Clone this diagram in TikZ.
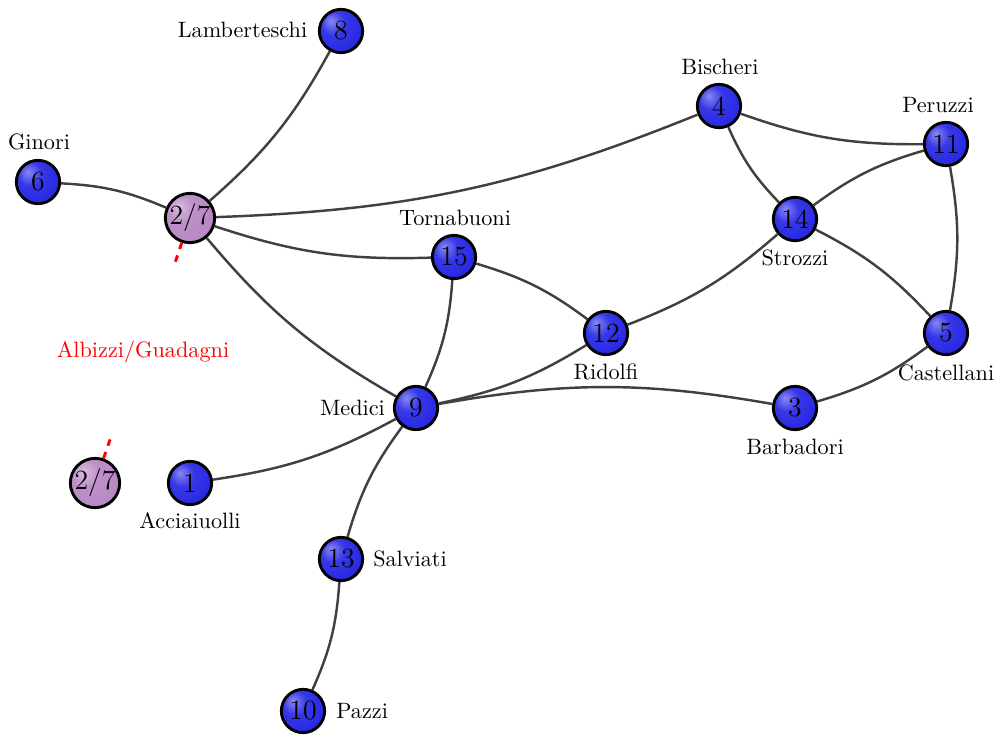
\documentclass[tikz,border=0pt]{standalone}
\definecolor{bbase}{RGB}{38,38,228}
\definecolor{pbase}{RGB}{184,134,196}
\pgfdeclareradialshading{blueball}{\pgfpoint{-12bp}{12bp}}{color(0bp)=(bbase!55!white); color(14bp)=(bbase!92!white); color(34bp)=(bbase); color(52bp)=(bbase!78!black); color(70bp)=(bbase!60!black)}
\pgfdeclareradialshading{purpball}{\pgfpoint{-12bp}{12bp}}{color(0bp)=(pbase!55!white); color(14bp)=(pbase!92!white); color(34bp)=(pbase); color(52bp)=(pbase!82!black); color(70bp)=(pbase!65!black)}
\begin{document}
\begin{tikzpicture}[x=0.45pt,y=-0.45pt,
  fam/.style={circle,draw=black,line width=1.3pt,shading=blueball,minimum size=19.5pt,inner sep=0pt,font=\fontsize{12.5}{14}\selectfont},
  cutnode/.style={fam,shading=purpball},
  lab/.style={font=\normalsize,anchor=base,inner sep=0pt},
  edge/.style={draw=black!75,line width=1.1pt},
  cutedge/.style={draw=red,dashed,line width=1.3pt}]
\useasboundingbox (0,0) rectangle (999,736);
% nodes
\node[fam] (n8) at (341,31) {8};
\node[fam] (n6) at (38,182) {6};
\node[cutnode] (a27) at (190,218) {2/7};
\node[fam] (n4) at (719,106) {4};
\node[fam] (n11) at (946,144) {11};
\node[fam] (n14) at (795,219) {14};
\node[fam] (n15) at (454,257) {15};
\node[fam] (n12) at (606,333) {12};
\node[fam] (n5) at (946,333) {5};
\node[fam] (n9) at (416,408) {9};
\node[fam] (n3) at (795,408) {3};
\node[cutnode] (b27) at (95,483) {2/7};
\node[fam] (n1) at (190,483) {1};
\node[fam] (n13) at (341,559) {13};
\node[fam] (n10) at (303,711) {10};
% labels
\node[lab] (l8) at (242.5,38) {Lamberteschi};
\node[lab] (l6) at (39,149) {Ginori};
\node[lab] (l4) at (720,74) {Bischeri};
\node[lab] (l11) at (938,112) {Peruzzi};
\node[lab] (l15) at (455,225) {Tornabuoni};
\node[lab] (l14) at (795,265) {Strozzi};
\node[lab] (l12) at (606,379) {Ridolfi};
\node[lab] (l5) at (946,380) {Castellani};
\node[lab] (l9) at (352.5,415) {Medici};
\node[lab] (l3) at (795,454) {Barbadori};
\node[lab] (l1) at (190,528) {Acciaiuolli};
\node[lab] (l13) at (410,566) {Salviati};
\node[lab,anchor=base west] (l10) at (336,718) {Pazzi};
\node[lab,text=red] (lag) at (143,357) {Albizzi/Guadagni};
% edges
\draw[edge] (n6) to[bend left=10] (a27);
\draw[edge] (a27) to[bend right=10] (n8);
\draw[edge] (a27) to[bend right=10] (n4);
\draw[edge] (a27) to[bend right=10] (n15);
\draw[edge] (a27) to[bend right=10] (n9);
\draw[edge] (n4) to[bend right=10] (n11);
\draw[edge] (n4) to[bend right=10] (n14);
\draw[edge] (n11) to[bend right=10] (n14);
\draw[edge] (n5) to[bend right=10] (n11);
\draw[edge] (n5) to[bend right=10] (n14);
\draw[edge] (n12) to[bend right=10] (n14);
\draw[edge] (n12) to[bend right=10] (n15);
\draw[edge] (n9) to[bend right=10] (n15);
\draw[edge] (n9) to[bend right=10] (n12);
\draw[edge] (n3) to[bend right=10] (n9);
\draw[edge] (n3) to[bend right=10] (n5);
\draw[edge] (n1) to[bend right=10] (n9);
\draw[edge] (n9) to[bend right=10] (n13);
\draw[edge] (n10) to[bend right=10] (n13);
% cut edge
\coordinate (cA) at (175,263);
\coordinate (cB) at (112,434);
\draw[cutedge] (a27) -- (cA);
\draw[cutedge] (b27) -- (cB);
\end{tikzpicture}
\end{document}
